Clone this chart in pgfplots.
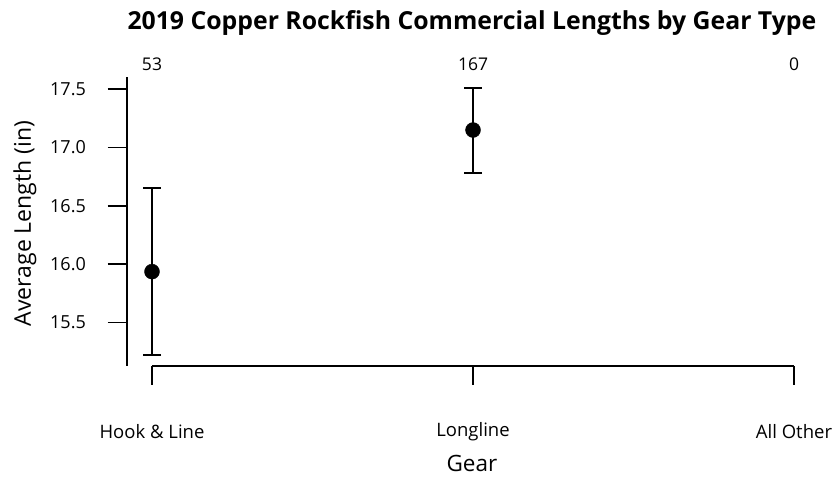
\documentclass[border=0pt]{standalone}
\usepackage{pgfplots}
\pgfplotsset{compat=1.18}
\usepackage{fontspec}
\setmainfont{Open Sans}
\begin{document}
\begin{tikzpicture}
\path[use as bounding box] (0,0) rectangle (835pt,478pt);
\begin{axis}[
  at={(127pt,112pt)}, anchor=south west,
  scale only axis, width=683pt, height=289pt,
  xmin=0.9221, xmax=3.0498, ymin=15.128, ymax=17.603,
  clip=false,
  axis line style={draw=none},
  tick pos=left, tick align=outside,
  major tick length=19pt,
  every tick/.style={black, line width=1.8pt},
  xtick={1,2,3}, xticklabels={Hook \& Line, Longline, All Other},
  ytick={15.5,16,16.5,17,17.5}, yticklabels={15.5,16.0,16.5,17.0,17.5},
  /pgf/number format/assume math mode=true,
  xticklabel style={font=\fontsize{18.5}{22}\selectfont, anchor=center, yshift=-47pt},
  yticklabel style={font=\fontsize{18}{21}\selectfont, anchor=center, xshift=-40pt},
  title={2019 Copper Rockfish Commercial Lengths by Gear Type},
  title style={font=\bfseries\fontsize{24.8}{29}\selectfont, at={(axis description cs:0.505,1)}, anchor=center, yshift=48pt},
  xlabel={Gear},
  xlabel style={font=\fontsize{22.5}{26}\selectfont, at={(axis description cs:0.505,0)}, anchor=center, yshift=-97pt},
  ylabel={Average Length (in)},
  ylabel style={font=\fontsize{23}{27}\selectfont, at={([xshift=-102pt,yshift=-2pt]axis description cs:0,0.5)}, anchor=center},
]
\draw[black, line width=1.8pt] (axis cs:0.9221,15.128) -- (axis cs:0.9221,17.603);
\draw[black, line width=1.8pt] (axis cs:1,15.128) -- (axis cs:3,15.128);
\draw[black, line width=1.8pt] ([xshift=-19pt]axis cs:0.9221,15.5) -- (axis cs:0.9221,15.5);
\draw[black, line width=1.8pt] ([xshift=-19pt]axis cs:0.9221,16.0) -- (axis cs:0.9221,16.0);
\draw[black, line width=1.8pt] ([xshift=-19pt]axis cs:0.9221,16.5) -- (axis cs:0.9221,16.5);
\draw[black, line width=1.8pt] ([xshift=-19pt]axis cs:0.9221,17.0) -- (axis cs:0.9221,17.0);
\draw[black, line width=1.8pt] ([xshift=-19pt]axis cs:0.9221,17.5) -- (axis cs:0.9221,17.5);
\addplot[black, only marks, mark=*, mark size=7.5pt,
  error bars/.cd, y dir=both, y explicit,
  error bar style={line width=1.8pt, black},
  error mark options={rotate=90, mark size=9pt, line width=1.8pt, black}]
  coordinates {
    (1,15.936) += (0,0.719) -= (0,0.713)
    (2,17.149) += (0,0.357) -= (0,0.366)
  };
\node[font=\fontsize{17.5}{21}\selectfont, anchor=center] at ([yshift=13pt]axis cs:1,17.603) {53};
\node[font=\fontsize{17.5}{21}\selectfont, anchor=center] at ([yshift=13pt]axis cs:2,17.603) {167};
\node[font=\fontsize{17.5}{21}\selectfont, anchor=center] at ([yshift=13pt]axis cs:3,17.603) {0};
\end{axis}
\end{tikzpicture}
\end{document}
